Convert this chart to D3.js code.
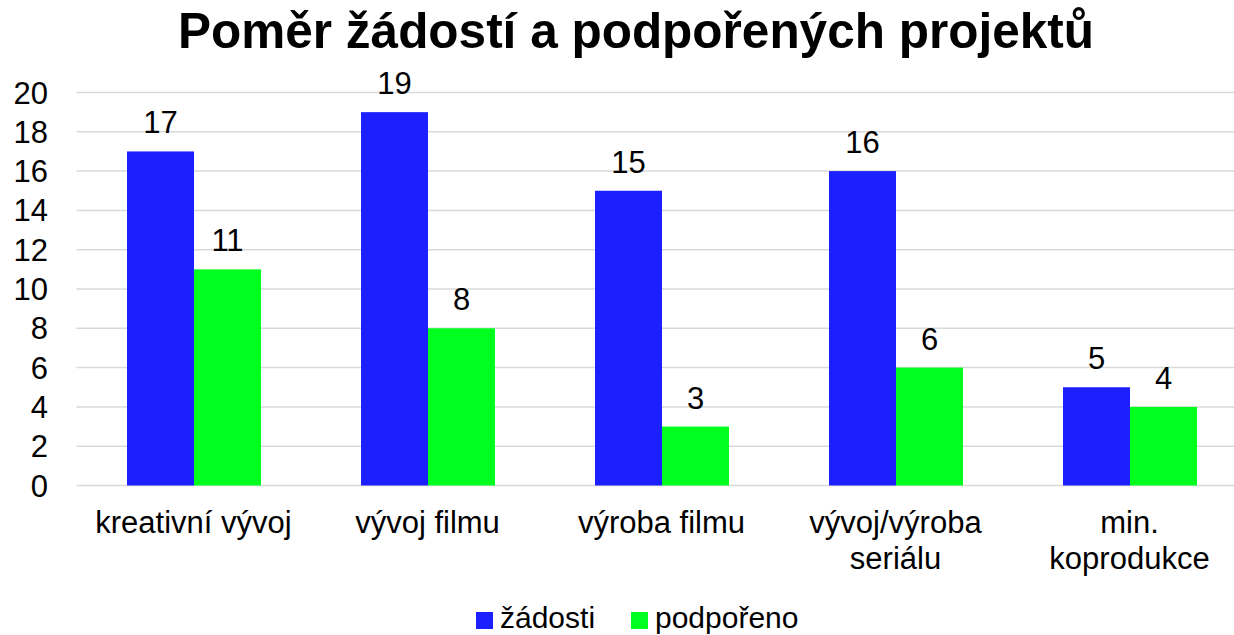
<!DOCTYPE html>
<html>
<head>
<meta charset="utf-8">
<script src="https://cdn.jsdelivr.net/npm/d3@7"></script>
<style>
  body { margin: 0; background: #fff; }
  text { font-family: "Liberation Sans", Arial, sans-serif; fill: #000; }
</style>
</head>
<body>
<svg id="chart"></svg>
<script>
// data
var categories = [["kreativní vývoj"], ["vývoj filmu"], ["výroba filmu"], ["vývoj/výroba", "seriálu"], ["min.", "koprodukce"]]
var seriesNames = ["žádosti", "podpořeno"]
var zadosti = [17, 19, 15, 16, 5]
var podporeno = [11, 8, 3, 6, 4]
var yTicks = [0, 2, 4, 6, 8, 10, 12, 14, 16, 18, 20]
var colors = ["#1c20ff", "#00ff1e"]

function main(){
    var svgWidth = 1234, svgHeight = 635
    var left = 76.5, top = 92.5, bottom = 485.5
    var step = 234

    var svg = d3.select('#chart')
        .attr('width', svgWidth)
        .attr('height', svgHeight)

    var keys = categories.map(function(d){ return d.join(" "); })
    var x0 = d3.scaleBand()
        .domain(keys)
        .range([left, left + step * keys.length])
        .padding(0)
    var x1 = d3.scaleBand()
        .domain(seriesNames)
        .range([50.5, 184.5])
    var y = d3.scaleLinear()
        .domain([0, 20])
        .range([bottom, top])

    // title
    svg.append("text")
        .attr("x", 636)
        .attr("y", 48)
        .attr("text-anchor", "middle")
        .attr("font-size", "49.5px")
        .attr("font-weight", "bold")
        .text("Poměr žádostí a podpořených projektů")

    // grid
    svg.selectAll(".grid")
        .data(yTicks)
        .enter()
        .append("line")
        .attr("x1", left)
        .attr("x2", svgWidth)
        .attr("y1", function(d){ return y(d); })
        .attr("y2", function(d){ return y(d); })
        .attr("stroke", "#d9d9d9")
        .attr("stroke-width", 1.5)

    svg.selectAll(".ytick")
        .data(yTicks)
        .enter()
        .append("text")
        .attr("x", 48)
        .attr("y", function(d){ return y(d) + 11; })
        .attr("text-anchor", "end")
        .attr("font-size", "31px")
        .text(function(d){ return d; })

    var rows = keys.map(function(k, i){
        return [{s: seriesNames[0], v: zadosti[i], c: 0}, {s: seriesNames[1], v: podporeno[i], c: 1}]
    })

    var groups = svg.selectAll(".grp")
        .data(rows)
        .enter()
        .append("g")
        .attr("transform", function(d, i){ return "translate(" + x0(keys[i]) + ",0)"; })

    groups.selectAll("rect")
        .data(function(d){ return d; })
        .enter()
        .append("rect")
        .attr("x", function(d){ return x1(d.s); })
        .attr("width", x1.bandwidth())
        .attr("y", function(d){ return y(d.v); })
        .attr("height", function(d){ return bottom - y(d.v); })
        .attr("fill", function(d){ return colors[d.c]; })

    groups.selectAll(".val")
        .data(function(d){ return d; })
        .enter()
        .append("text")
        .attr("x", function(d){ return x1(d.s) + x1.bandwidth() / 2; })
        .attr("y", function(d){ return y(d.v) - 18; })
        .attr("text-anchor", "middle")
        .attr("font-size", "31px")
        .text(function(d){ return d.v; })

    // category labels
    categories.forEach(function(lines, i){
        var cx = x0(keys[i]) + step / 2
        lines.forEach(function(l, j){
            svg.append("text")
                .attr("x", cx)
                .attr("y", 533 + j * 36)
                .attr("text-anchor", "middle")
                .attr("font-size", "31px")
                .text(l)
        })
    })

    // legend
    var legX = [476, 631]
    seriesNames.forEach(function(n, i){
        svg.append("rect")
            .attr("x", legX[i])
            .attr("y", 612)
            .attr("width", 17)
            .attr("height", 17)
            .attr("fill", colors[i])
        svg.append("text")
            .attr("x", legX[i] + 24)
            .attr("y", 628)
            .attr("font-size", "30px")
            .text(n)
    })
}
main()
</script>
</body>
</html>
